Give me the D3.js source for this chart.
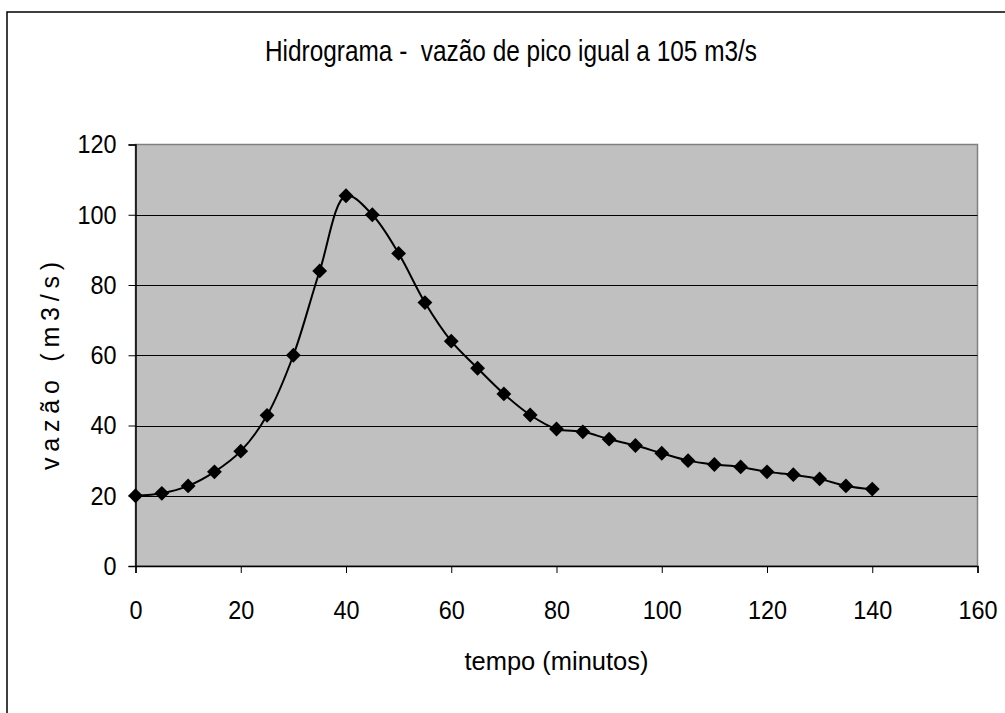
<!DOCTYPE html>
<html>
<head>
<meta charset="utf-8">
<script src="https://cdn.jsdelivr.net/npm/d3@7"></script>
<style>
  body { margin: 0; background: #fff; }
  text { font-family: "Liberation Sans", Arial, sans-serif; fill: #000; white-space: pre; }
</style>
</head>
<body>
<div id="chart"></div>
<script>
var tempo = [0, 5, 10, 15, 20, 25, 30, 35, 40, 45, 50, 55, 60, 65, 70,
             75, 80, 85, 90, 95, 100, 105, 110, 115, 120, 125, 130, 135, 140];
var vazao = [20, 20.7, 22.8, 26.8, 32.7, 42.9, 60, 84, 105.4, 100, 89, 75, 64, 56.3, 49,
             43, 39, 38.2, 36.1, 34.3, 32.1, 30, 28.9, 28.2, 26.8, 26, 24.8, 22.8, 21.9];
var xTicks = [0, 20, 40, 60, 80, 100, 120, 140, 160];
var yTicks = [0, 20, 40, 60, 80, 100, 120];

var titulo = "Hidrograma -  vaz\u00e3o de pico igual a 105 m3/s";
var xTitulo = "tempo (minutos)";
var yTitulo = "vaz\u00e3o (m3/s)";

var width = 1005, height = 713;
//Plot area edges (pixels).
var pLeft = 135.5, pRight = 977.5, pTop = 144.5, pBottom = 566;

var svg = d3.select("#chart").append("svg")
    .attr("width", width)
    .attr("height", height);

//Outer chart border (runs off the right and bottom of the picture).
svg.append("rect")
    .attr("x", 7).attr("y", 12)
    .attr("width", 1020).attr("height", 720)
    .attr("fill", "#fff")
    .attr("stroke", "#000")
    .attr("stroke-width", 1.5);

var x = d3.scaleLinear().domain([0, 160]).range([pLeft, pRight]);
var y = d3.scaleLinear().domain([0, 120]).range([pBottom, pTop]);

//Plot area.
svg.append("rect")
    .attr("x", pLeft).attr("y", pTop)
    .attr("width", pRight - pLeft).attr("height", pBottom - pTop)
    .attr("fill", "#c0c0c0")
    .attr("stroke", "#808080")
    .attr("stroke-width", 1.5);

//Gridlines.
svg.append("g")
    .selectAll("line")
    .data(yTicks.filter(function(d) { return d > 0 && d < 120; }))
    .enter().append("line")
    .attr("x1", pLeft).attr("x2", pRight)
    .attr("y1", function(d) { return Math.round(y(d)) + 0.5; })
    .attr("y2", function(d) { return Math.round(y(d)) + 0.5; })
    .attr("stroke", "#000")
    .attr("stroke-width", 1);

//Axes.
var xAxis = svg.append("g")
    .attr("transform", "translate(0," + pBottom + ")")
    .call(d3.axisBottom(x).tickValues(xTicks).tickSize(7).tickPadding(28));
var yAxis = svg.append("g")
    .attr("transform", "translate(" + pLeft + ",0)")
    .call(d3.axisLeft(y).tickValues(yTicks).tickSize(7).tickPadding(0));

[xAxis, yAxis].forEach(function(a) {
    a.select(".domain").attr("stroke", "#000").attr("stroke-width", 1.5);
    a.selectAll(".tick line").attr("stroke", "#000").attr("stroke-width", 1);
    a.selectAll(".tick text")
        .attr("font-size", 26)
        .style("font-family", "'Liberation Sans', Arial, sans-serif")
        .attr("fill", "#000");
});
//Narrow the tick digits like the original.
xAxis.selectAll(".tick text").attr("transform", "scale(0.9,1)");
yAxis.selectAll(".tick text")
    .attr("x", 0)
    .attr("transform", "translate(-19,0) scale(0.9,1)");

//Smoothed line and diamond markers.
var pontos = tempo.map(function(t, i) { return [t, vazao[i]]; });

var line = d3.line()
    .x(function(d) { return x(d[0]); })
    .y(function(d) { return y(d[1]); })
    .curve(d3.curveCatmullRom.alpha(0.5));

svg.append("path")
    .datum(pontos)
    .attr("d", line)
    .attr("fill", "none")
    .attr("stroke", "#000")
    .attr("stroke-width", 2);

svg.append("g")
    .selectAll("path")
    .data(pontos)
    .enter().append("path")
    .attr("d", d3.symbol().type(d3.symbolSquare).size(110))
    .attr("transform", function(d) {
        return "translate(" + x(d[0]) + "," + y(d[1]) + ") rotate(45)";
    })
    .attr("fill", "#000");

//Titles.
svg.append("text")
    .attr("x", 511).attr("y", 61)
    .attr("text-anchor", "middle")
    .attr("font-size", 29)
    .attr("textLength", 492)
    .attr("lengthAdjust", "spacingAndGlyphs")
    .text(titulo);

svg.append("text")
    .attr("x", (pLeft + pRight) / 2).attr("y", 670)
    .attr("text-anchor", "middle")
    .attr("font-size", 25)
    .attr("textLength", 184)
    .attr("lengthAdjust", "spacingAndGlyphs")
    .text(xTitulo);

svg.append("text")
    .attr("transform", "translate(59,366) rotate(-90)")
    .attr("text-anchor", "middle")
    .attr("font-size", 25)
    .attr("textLength", 208)
    .attr("lengthAdjust", "spacing")
    .text(yTitulo);
</script>
</body>
</html>
